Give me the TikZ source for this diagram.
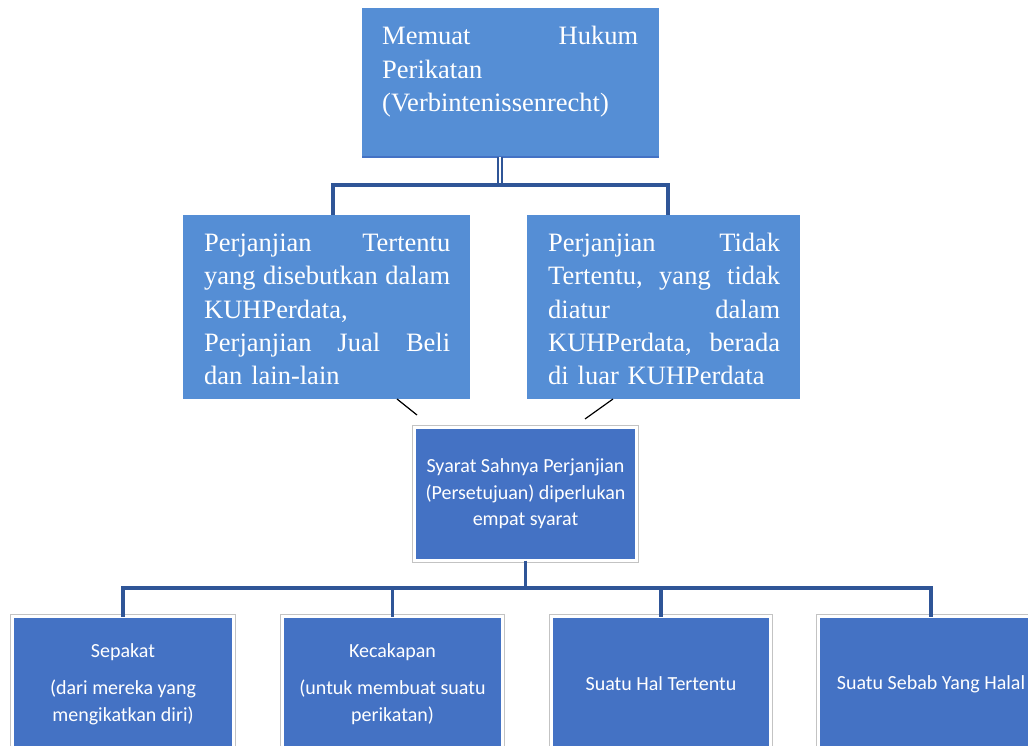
\documentclass[tikz,border=0pt]{standalone}
\usepackage{fontspec}
\setmainfont{Liberation Serif}
\newfontfamily\calibri{Carlito}
\usetikzlibrary{positioning,calc}

\definecolor{paleblue}{RGB}{85,142,213}
\definecolor{deepblue}{RGB}{68,114,196}
\definecolor{connblue}{RGB}{47,85,151}
\definecolor{framegray}{RGB}{195,195,195}

\newcommand{\serifsize}{\fontsize{26.5}{33.3}\selectfont}
\newcommand{\calsize}{\calibri\fontsize{20}{26.5}\selectfont}

\tikzset{
  palebox/.style={fill=paleblue, inner sep=0pt, outer sep=0pt, anchor=north west},
  deepbox/.style={fill=deepblue, draw=white, line width=3pt,
    preaction={draw=framegray, line width=4.8pt},
    inner sep=0pt, outer sep=0pt, anchor=north west, text=white, font=\calsize, align=center},
  seriftext/.style={inner sep=0pt, anchor=base west, text=white, font=\serifsize, align=left},
  conn/.style={draw=connblue, line width=3.2pt},
  dconn/.style={draw=connblue, double=white, double distance=1.8pt, line width=1.7pt},
  broken/.style={draw=black, line width=1.2pt}
}

\begin{document}
\begin{tikzpicture}[x=1pt, y=-1pt]
    \useasboundingbox (0,0) rectangle (1028,746);

    % top level
    \node[palebox, minimum width=297pt, minimum height=149pt] (hukum) at (362,8) {};
    \draw[line width=2.5pt, draw=deepblue] (hukum.south west) -- (hukum.south east);
    \node[seriftext, text width=256pt] (hukumtxt) at (382,45)
        {Memuat\hfill Hukum\\ Perikatan\\ (Verbintenissenrecht)};

    % second level
    \node[palebox, minimum width=287pt, minimum height=184pt] (tertentu) at (183,215) {};
    \node[seriftext, text width=246pt] (tertentutxt) at (204,251.5)
        {Perjanjian\hfill Tertentu\\ yang\hfill disebutkan\hfill dalam\\ KUHPerdata,\\
         Perjanjian\hfill Jual\hfill Beli\\ dan lain-lain};

    \node[palebox, minimum width=273pt, minimum height=184pt] (tidak) at (527,215) {};
    \node[seriftext, text width=232pt] (tidaktxt) at (548,251.5)
        {Perjanjian\hfill Tidak\\ Tertentu,\hfill yang\hfill tidak\\ diatur\hfill dalam\\
         KUHPerdata,\hfill berada\\ di luar KUHPerdata};

    \coordinate (hub1) at (500,185);
    \draw[dconn] ([xshift=-10.5pt]hukum.south) -- (hub1);
    \draw[conn] ([xshift=6.5pt]tertentu.north) |- (hub1) -| ([xshift=4.5pt]tidak.north);

    % syarat
    \node[deepbox, minimum width=222pt, minimum height=133pt] (syarat) at (414.5,427.5)
        {Syarat Sahnya Perjanjian\\ (Persetujuan) diperlukan\\ empat syarat};

    \coordinate (D1) at (397,399);
    \coordinate (D2) at (417,415);
    \coordinate (D3) at (613,399);
    \coordinate (D4) at (585,419);
    \draw[broken] (D1) -- (D2);
    \draw[broken] (D3) -- (D4);

    % four conditions
    \node[deepbox, minimum width=221pt, minimum height=135pt] (sepakat) at (12.5,616.5)
        {Sepakat\\[11pt] (dari mereka yang\\ mengikatkan diri)};
    \node[deepbox, minimum width=220pt, minimum height=135pt] (cakap) at (282.5,616.5)
        {Kecakapan\\[11pt] (untuk membuat suatu\\ perikatan)};
    \node[deepbox, minimum width=219pt, minimum height=135pt] (hal) at (551.5,616.5)
        {Suatu Hal Tertentu};
    \node[deepbox, minimum width=225pt, minimum height=135pt] (sebab) at (818.5,616.5)
        {Suatu Sebab Yang Halal};

    \coordinate (hub2) at (525.5,588);
    \draw[conn] (syarat.south) -- (hub2);
    \draw[conn] (sepakat.north) |- (hub2) -| (sebab.north);
    \draw[conn] (cakap.north) -- (cakap.north |- hub2);
    \draw[conn] (hal.north) -- (hal.north |- hub2);

\end{tikzpicture}
\end{document}
